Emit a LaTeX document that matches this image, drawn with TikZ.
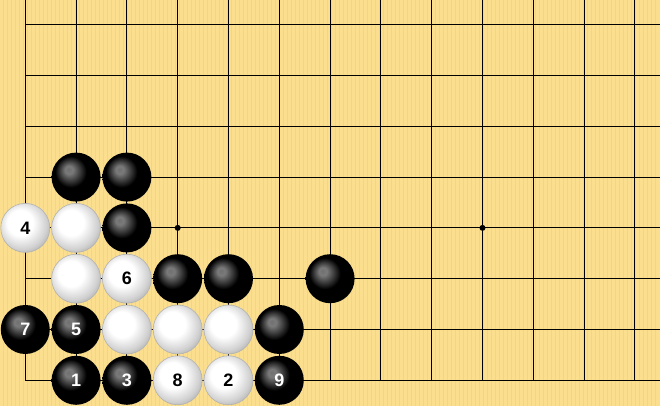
\documentclass[tikz,border=0pt]{standalone}
\usepackage{fontspec}
\setmainfont{Liberation Sans}
\definecolor{boardyellow}{RGB}{251,223,143}
\definecolor{boardstripe}{RGB}{246,212,128}
\pgfdeclareradialshading{bstoneshade}{\pgfpoint{-8bp}{8bp}}{color(0bp)=(black!56); color(4bp)=(black!52); color(16bp)=(black); color(28bp)=(black); color(34bp)=(black!70); color(50bp)=(black!70)}
\pgfdeclareradialshading{wstoneshade}{\pgfpoint{-7bp}{7bp}}{color(0bp)=(white); color(13bp)=(white); color(25bp)=(black!18); color(33bp)=(black!36); color(50bp)=(black!36)}
\tikzset{
	bstone/.style={circle, inner sep=0pt, minimum size=49pt, shading=bstoneshade, text=white,
		font=\bfseries\fontsize{18}{18}\selectfont},
	wstone/.style={circle, inner sep=0pt, minimum size=49pt, shading=wstoneshade, draw=black!30,
		line width=0.6pt, text=black, font=\bfseries\fontsize{18}{18}\selectfont},
	hoshi/.style={circle, fill=black, inner sep=0pt, minimum size=6pt}
}

\begin{document}
\begin{tikzpicture}[x=50.8pt,y=50.8pt]
		\useasboundingbox (-0.498,-0.506) rectangle (12.494,7.486);
		\fill[boardyellow] (-0.498,-0.506) rectangle (12.494,7.486);
		\foreach \s in {0,...,164}
			\draw[boardstripe,line width=1pt] ({-0.498+\s*0.0787},-0.506) -- ++(0,7.992);
		\foreach \i in {0,...,12}
			\draw[line width=1.1pt] (\i,0) -- (\i,7.486);
		\foreach \j in {0,...,7}
			\draw[line width=1.1pt] (0,\j) -- (12.494,\j);
		\node[hoshi] (star-a) at (3,3) {};
		\node[hoshi] (star-b) at (9,3) {};

		\node[bstone] (b-a) at (1,4) {};
		\node[bstone] (b-b) at (2,4) {};
		\node[wstone] (w4) at (0,3) {4};
		\node[wstone] (w-a) at (1,3) {};
		\node[bstone] (b-c) at (2,3) {};
		\node[wstone] (w-b) at (1,2) {};
		\node[wstone] (w6) at (2,2) {6};
		\node[bstone] (b-d) at (3,2) {};
		\node[bstone] (b-e) at (4,2) {};
		\node[bstone] (b-f) at (6,2) {};
		\node[bstone] (b7) at (0,1) {7};
		\node[bstone] (b5) at (1,1) {5};
		\node[wstone] (w-c) at (2,1) {};
		\node[wstone] (w-d) at (3,1) {};
		\node[wstone] (w-e) at (4,1) {};
		\node[bstone] (b-g) at (5,1) {};
		\node[bstone] (b1) at (1,0) {1};
		\node[bstone] (b3) at (2,0) {3};
		\node[wstone] (w8) at (3,0) {8};
		\node[wstone] (w2) at (4,0) {2};
		\node[bstone] (b9) at (5,0) {9};
	\end{tikzpicture}
\end{document}
